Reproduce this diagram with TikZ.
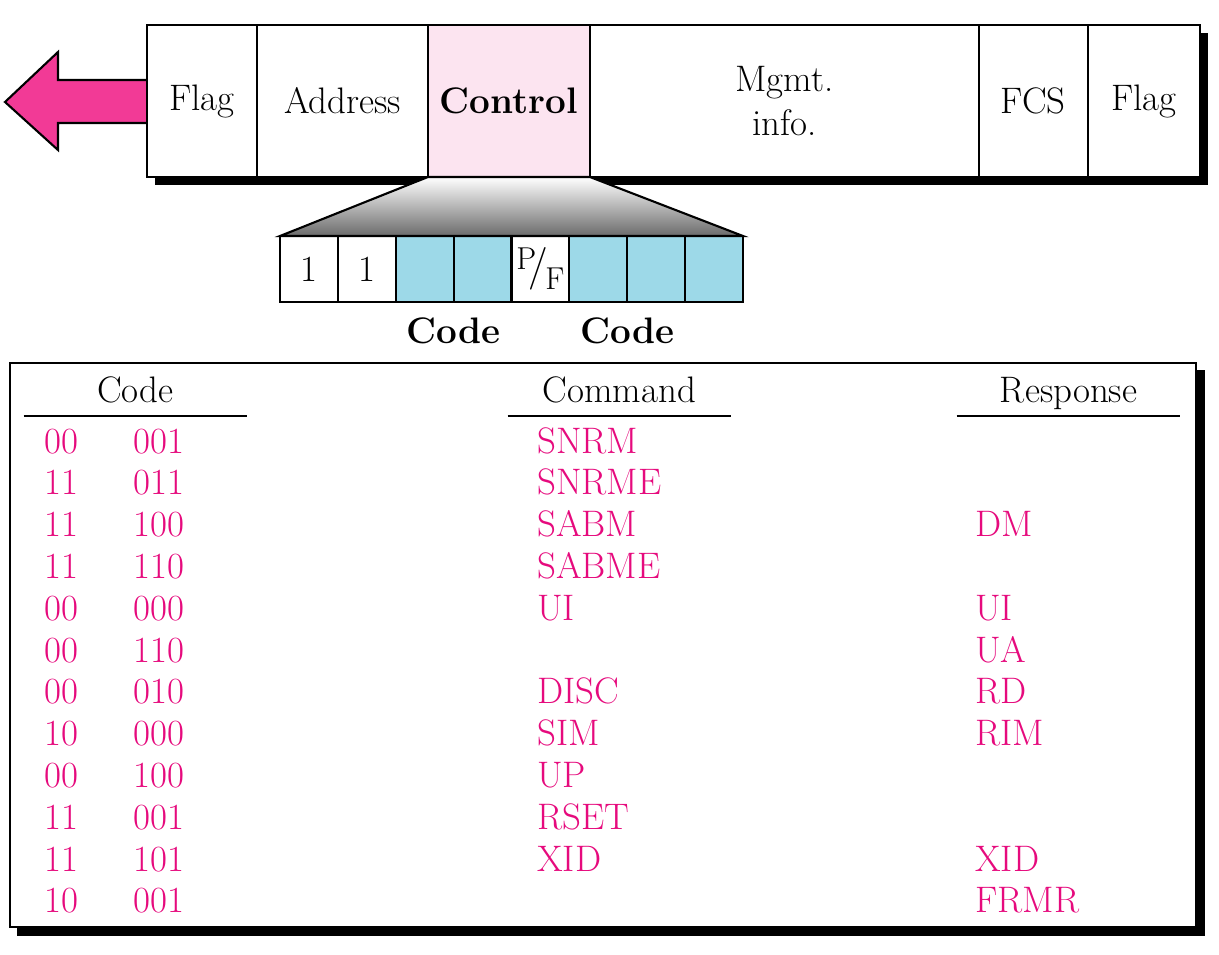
\documentclass[tikz,border=0pt]{standalone}
\usetikzlibrary{positioning,calc,backgrounds}
\definecolor{arrowpink}{RGB}{242,58,150}
\definecolor{ctrlpink}{RGB}{252,228,240}
\definecolor{bitblue}{RGB}{157,217,232}
\definecolor{codepink}{RGB}{230,10,125}
\tikzset{
  field/.style={draw, fill=white, line width=1.2pt, inner sep=0pt, outer sep=0pt, minimum height=3.04cm},
  bit/.style={draw, line width=1.2pt, inner sep=0pt, outer sep=0pt, minimum width=1.1575cm, minimum height=1.32cm},
  head/.style={inner sep=0pt, anchor=south, minimum width=4.46cm, text depth=0.26cm},
  entry/.style={text=codepink, anchor=base west, inner sep=0pt},
}
\newcommand\pfbit{{\fontsize{18}{20}\selectfont\raisebox{.6ex}{P}\kern-.25em\raisebox{-.2ex}{\scalebox{1.35}{/}}\kern-.08em\raisebox{-.9ex}{F}}}
\begin{document}
\begin{tikzpicture}[x=0.02cm, y=-0.02cm, font=\fontsize{21}{25}\selectfont]
\def\sh{8} %shadow offset
\def\bw{57.875} %width of one bit
\def\rs{41.8} %step between table rows
\useasboundingbox (0,0) rectangle (1219,954);

% outgoing arrow
\filldraw [fill=arrowpink, line width=1.2pt]
  (147,80) -- (58,80) -- (58,52) -- (5,102) -- (58,150) -- (58,123) -- (147,123);

% the frame
\node [field, minimum width=2.2cm] (flagA) at (202,101) {Flag};
\node [field, minimum width=3.42cm, right=0pt of flagA] (addr) {Address};
\node [field, minimum width=3.24cm, right=0pt of addr, fill=ctrlpink] (ctrl) {\bfseries Control};
\node [field, minimum width=7.78cm, right=0pt of ctrl, align=center] (mgmt) {Mgmt.\\info.};
\node [field, minimum width=2.18cm, right=0pt of mgmt] (fcs) {FCS};
\node [field, minimum width=2.24cm, right=0pt of fcs] (flagB) {Flag};
\begin{scope}[on background layer]
\fill ([shift={(\sh,\sh)}]flagA.north west) rectangle ([shift={(\sh,\sh)}]flagB.south east);
\end{scope}

% control field bits
\foreach \i/\col/\txt in {1/white/1, 2/white/1, 3/bitblue/, 4/bitblue/,
    5/white/\pfbit, 6/bitblue/, 7/bitblue/, 8/bitblue/}
  \node [bit, fill=\col] (b\i) at ({280+(\i-0.5)*\bw},269) {\txt};

% zoom from the control field
\draw [line width=1.2pt, top color=white, bottom color=black!58]
  (ctrl.south west) -- (ctrl.south east) -- (b8.north east) -- (b1.north west) -- cycle;

\node [anchor=base] (codeA) at ($(b3.south east)+(0,41)$) {\bfseries Code};
\node [anchor=base] (codeB) at ($(b6.south east)+(0,41)$) {\bfseries Code};

% table of codes
\node [draw, fill=white, line width=1.2pt, minimum width=23.72cm, minimum height=11.28cm] (tbl) at (603,645) {};
\begin{scope}[on background layer]
\fill ([shift={(\sh,\sh)}]tbl.north west) rectangle ([shift={(\sh,\sh)}]tbl.south east);
\end{scope}

\node [head] (hcode) at (135.5,416) {Code};
\node [head] (hcmd) at (619.5,416) {Command};
\node [head] (hrsp) at (1068.5,416) {Response};
\foreach \h in {hcode,hcmd,hrsp}
  \draw [line width=1pt] (\h.south west) -- (\h.south east);

\foreach \a/\b/\cmd/\rsp [count=\r from 0] in {00/001/SNRM/, 11/011/SNRME/, 11/100/SABM/DM,
    11/110/SABME/, 00/000/UI/UI, 00/110//UA, 00/010/DISC/RD, 10/000/SIM/RIM,
    00/100/UP/, 11/001/RSET/, 11/101/XID/XID, 10/001//FRMR}
{
  \node [entry] (ca\r) at (44,{453+\r*\rs}) {\a};
  \node [entry] (cb\r) at (133,{453+\r*\rs}) {\b};
  \node [entry] (cm\r) at (537,{453+\r*\rs}) {\cmd};
  \node [entry] (cr\r) at (975,{453+\r*\rs}) {\rsp};
}
\end{tikzpicture}
\end{document}
